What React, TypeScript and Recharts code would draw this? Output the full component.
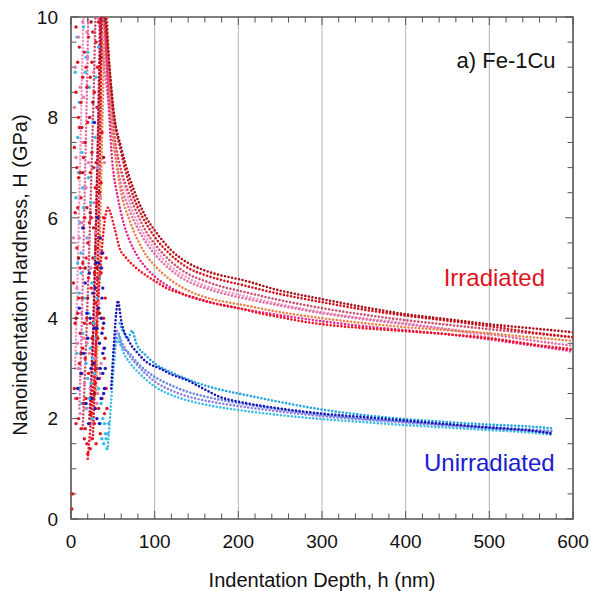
import {
  ComposedChart,
  Line,
  Scatter,
  XAxis,
  YAxis,
  CartesianGrid,
  ReferenceLine,
  ReferenceArea,
  ReferenceDot,
} from "recharts";

type Pt = [number, number];

// ticks
const xMajorTicks = [0, 100, 200, 300, 400, 500, 600];
const xMinorTicks = [
  0, 20, 40, 60, 80, 100, 120, 140, 160, 180, 200, 220, 240, 260, 280, 300, 320,
  340, 360, 380, 400, 420, 440, 460, 480, 500, 520, 540, 560, 580, 600,
];
const yMajorTicks = [0, 2, 4, 6, 8, 10];
const yMinorTicks = [
  0, 0.5, 1, 1.5, 2, 2.5, 3, 3.5, 4, 4.5, 5, 5.5, 6, 6.5, 7, 7.5, 8, 8.5, 9, 9.5, 10,
];

// irradiated indents (depth nm, hardness GPa)
const irrDark: Pt[] = [
  [22, 2.0], [26, 3.6], [30, 6.0], [34, 8.8], [37, 10.6], [41, 10.1], [46, 9.0], [52, 8.0],
  [60, 7.4], [70, 6.8], [80, 6.35], [90, 6.0], [100, 5.75], [120, 5.35], [140, 5.1],
  [160, 4.95], [180, 4.85], [200, 4.78], [250, 4.55], [300, 4.38], [350, 4.22], [400, 4.08],
  [450, 3.98], [500, 3.88], [550, 3.8], [600, 3.72],
];
const irrRed: Pt[] = [
  [26, 1.6], [29, 3.0], [32, 5.2], [35, 7.8], [38, 10.5], [44, 9.4], [50, 8.2], [60, 7.3],
  [70, 6.65], [80, 6.2], [90, 5.88], [100, 5.62], [120, 5.25], [140, 5.0], [160, 4.86],
  [180, 4.76], [200, 4.68], [250, 4.48], [300, 4.32], [350, 4.17], [400, 4.05], [450, 3.95],
  [500, 3.84], [550, 3.72], [600, 3.62],
];
const irrRose: Pt[] = [
  [14, 1.8], [18, 3.5], [22, 5.5], [26, 7.8], [32, 11.0], [42, 9.3], [48, 8.2], [55, 7.3],
  [60, 6.95], [70, 6.45], [80, 6.05], [90, 5.72], [100, 5.48], [120, 5.12], [140, 4.88],
  [160, 4.74], [180, 4.63], [200, 4.55], [250, 4.36], [300, 4.2], [350, 4.07], [400, 3.96],
  [450, 3.87], [500, 3.78], [550, 3.7], [600, 3.62],
];
const irrPink: Pt[] = [
  [10, 2.2], [13, 4.0], [16, 6.2], [19, 8.5], [22, 10.8], [44, 8.4], [50, 7.6], [55, 7.05],
  [60, 6.65], [70, 6.15], [80, 5.78], [90, 5.5], [100, 5.28], [120, 4.95], [140, 4.73],
  [160, 4.6], [180, 4.5], [200, 4.42], [250, 4.25], [300, 4.1], [350, 3.98], [400, 3.88],
  [450, 3.78], [500, 3.68], [550, 3.56], [600, 3.45],
];
const irrOrange: Pt[] = [
  [30, 2.5], [33, 4.5], [36, 6.8], [39, 9.0], [41, 10.5], [48, 8.0], [55, 7.0], [60, 6.5],
  [70, 5.95], [80, 5.55], [90, 5.25], [100, 5.05], [120, 4.75], [140, 4.55], [160, 4.42],
  [180, 4.34], [200, 4.28], [250, 4.12], [300, 4.0], [350, 3.9], [400, 3.82], [450, 3.76],
  [500, 3.7], [550, 3.62], [600, 3.55],
];
const irrMagenta: Pt[] = [
  [24, 2.2], [28, 4.5], [32, 7.5], [36, 10.5], [50, 7.0], [56, 6.4], [62, 5.95], [70, 5.55],
  [80, 5.22], [90, 5.0], [100, 4.83], [120, 4.6], [140, 4.44], [160, 4.34], [180, 4.27],
  [200, 4.2], [250, 4.06], [300, 3.94], [350, 3.84], [400, 3.76], [450, 3.68], [500, 3.58],
  [550, 3.46], [600, 3.35],
];
const irrBright: Pt[] = [
  [20, 1.2], [24, 2.0], [28, 3.0], [32, 4.2], [36, 5.2], [40, 5.9], [44, 6.2], [47, 6.1],
  [52, 5.8], [58, 5.4], [66, 5.2], [78, 5.0], [90, 4.85], [102, 4.72], [114, 4.6],
  [130, 4.5], [150, 4.4], [170, 4.3], [180, 4.26], [200, 4.2], [225, 4.1], [250, 4.02],
  [275, 3.94], [300, 3.88], [350, 3.8], [400, 3.74], [450, 3.68], [500, 3.6], [550, 3.48],
  [600, 3.38],
];
const irrLight: Pt[] = [
  [5, 3.0], [8, 5.0], [11, 7.2], [14, 9.4], [17, 11.0], [45, 8.6], [52, 7.6], [60, 6.9],
  [70, 6.3], [80, 5.9], [90, 5.6], [100, 5.38], [120, 5.02], [140, 4.8], [160, 4.65],
  [180, 4.55], [200, 4.47], [250, 4.28], [300, 4.12], [350, 4.0], [400, 3.9], [450, 3.78],
  [500, 3.62], [550, 3.48], [600, 3.32],
];

// unirradiated indents
const unDark: Pt[] = [
  [48, 2.6], [51, 3.4], [54, 4.1], [56, 4.35], [60, 3.95], [70, 3.52], [80, 3.3], [90, 3.13],
  [106, 3.0], [120, 2.88], [138, 2.77], [160, 2.58], [178, 2.43], [200, 2.34], [250, 2.2],
  [300, 2.1], [350, 2.03], [400, 1.96], [450, 1.89], [500, 1.82], [550, 1.76], [575, 1.7],
];
const unCyan: Pt[] = [
  [58, 3.9], [62, 3.75], [68, 3.6], [73, 3.75], [78, 3.5], [90, 3.25], [100, 3.1],
  [120, 2.92], [140, 2.78], [160, 2.66], [180, 2.57], [200, 2.5], [250, 2.33], [300, 2.18],
  [350, 2.07], [400, 1.99], [450, 1.93], [500, 1.88], [550, 1.84], [578, 1.8],
];
const unSky: Pt[] = [
  [44, 1.45], [46, 1.85], [48, 2.35], [50, 2.8], [52, 3.2], [54, 3.5], [57, 3.65], [62, 3.35],
  [70, 3.12], [80, 2.93], [90, 2.77], [100, 2.64], [120, 2.47], [140, 2.36], [160, 2.28],
  [180, 2.22], [200, 2.17], [250, 2.07], [300, 1.99], [350, 1.93], [400, 1.87], [450, 1.82],
  [500, 1.77], [550, 1.72], [575, 1.68],
];
const unLavender: Pt[] = [
  [52, 3.4], [55, 3.75], [60, 3.55], [70, 3.25], [80, 3.05], [90, 2.88], [100, 2.74],
  [120, 2.56], [140, 2.44], [160, 2.36], [180, 2.3], [200, 2.25], [250, 2.14], [300, 2.05],
  [350, 1.98], [400, 1.92], [450, 1.86], [500, 1.8], [550, 1.75], [572, 1.72],
];
const unBlue: Pt[] = [
  [55, 3.6], [60, 3.45], [70, 3.3], [80, 3.1], [90, 2.95], [100, 2.83], [120, 2.66],
  [140, 2.53], [160, 2.44], [180, 2.37], [200, 2.31], [250, 2.18], [300, 2.08], [350, 2.0],
  [400, 1.94], [450, 1.88], [500, 1.83], [550, 1.78], [575, 1.75],
];

// scattered shallow-depth points
const noiseRed: Pt[] = [
  [1, 0.2], [2, 0.5], [3, 4.7], [5, 6.1], [6, 9.8], [7, 5.4], [8, 9.1], [9, 4.4], [9, 6.8],
  [10, 7.8], [11, 3.7], [12, 6.4], [12, 8.3], [13, 2.9], [14, 5.1], [15, 2.3], [16, 3.9],
  [16, 9.3], [17, 1.8], [18, 5.2], [19, 8.6], [19, 1.5], [20, 1.3], [21, 4.8], [22, 8.0],
  [23, 6.9], [23, 1.4], [24, 2.1], [25, 3.6], [25, 7.3], [26, 9.7], [27, 5.8], [28, 8.5],
  [28, 1.9], [29, 4.3], [30, 7.1], [30, 9.5], [31, 3.0], [32, 9.0], [33, 2.2], [34, 6.5],
  [35, 1.7], [35, 8.4], [36, 4.9], [37, 7.7], [38, 3.8], [39, 6.0], [40, 3.2], [41, 4.4],
  [42, 2.6], [4, 2.6], [4, 7.4], [5, 3.9], [6, 1.9], [6, 8.5], [7, 2.4], [7, 7.0], [8, 4.1],
  [8, 6.2], [9, 2.0], [9, 8.0], [10, 3.1], [10, 9.4], [11, 5.0], [11, 6.9], [12, 1.8],
  [13, 4.4], [13, 7.8], [14, 3.4], [14, 8.8], [15, 5.8], [15, 7.2], [16, 1.6], [16, 6.0],
  [17, 3.2], [17, 7.5], [18, 2.4], [18, 9.0], [19, 4.0], [19, 6.2], [20, 5.5], [20, 7.9],
  [21, 2.9], [21, 9.6], [22, 5.9], [22, 1.9], [23, 3.9], [23, 8.8], [24, 4.6], [24, 6.0],
  [25, 1.6], [25, 9.1], [26, 3.1], [26, 5.2], [27, 2.4], [27, 7.0], [28, 4.9], [29, 2.7],
  [29, 6.6], [30, 1.5], [30, 5.4], [31, 6.3], [31, 8.2], [32, 3.6], [32, 4.8], [33, 5.6],
  [33, 9.9], [34, 2.8], [34, 7.6], [36, 6.7], [37, 2.4], [38, 5.3], [39, 4.0], [40, 2.1],
  [41, 3.6], [42, 5.2], [43, 2.2],
];
const noisePink: Pt[] = [
  [4, 8.2], [6, 7.2], [8, 3.5], [10, 5.6], [12, 4.1], [14, 7.5], [14, 9.9], [16, 2.7],
  [18, 6.6], [20, 9.2], [21, 7.1], [22, 3.3], [24, 5.0], [26, 2.8], [27, 4.6], [28, 6.3],
  [30, 4.0], [32, 2.5], [33, 7.0], [34, 5.3], [36, 3.1], [38, 9.6], [3, 5.6], [5, 9.0],
  [5, 2.4], [7, 4.6], [9, 9.6], [9, 3.0], [11, 8.6], [11, 2.1], [13, 5.9], [15, 3.6],
  [15, 8.4], [17, 6.0], [17, 2.2], [19, 3.5], [19, 9.7], [21, 5.6], [23, 2.6], [23, 8.0],
  [25, 6.0], [25, 1.9], [27, 8.9], [29, 3.2], [29, 5.7], [31, 9.0], [31, 2.3], [33, 4.3],
  [35, 6.4], [35, 2.9], [37, 5.0], [39, 3.4], [40, 7.1],
];
const noiseDark: Pt[] = [
  [6, 4.0], [9, 5.2], [12, 3.3], [14, 6.9], [17, 5.0], [20, 4.4], [23, 6.1], [24, 9.9],
  [26, 8.3], [28, 2.5], [31, 5.0], [34, 4.1], [36, 9.2], [39, 7.2],
];
const noiseCyan: Pt[] = [
  [5, 8.9], [7, 9.6], [8, 7.6], [9, 6.9], [10, 8.3], [11, 5.9], [12, 4.9], [12, 5.3],
  [13, 7.3], [14, 3.7], [15, 6.2], [15, 9.8], [16, 4.4], [17, 8.9], [18, 3.1], [19, 5.6],
  [20, 2.8], [20, 9.3], [21, 4.1], [22, 2.4], [23, 3.4], [24, 2.7], [24, 6.3], [25, 4.7],
  [26, 3.2], [27, 5.8], [28, 2.9], [29, 7.6], [30, 3.6], [31, 4.4], [31, 7.0], [32, 8.2],
  [33, 2.6], [33, 9.4], [35, 1.9], [37, 1.6], [39, 1.5], [41, 1.7], [43, 1.4], [6, 6.4],
  [7, 3.3], [8, 5.1], [9, 2.6], [10, 4.5], [11, 7.8], [13, 2.3], [14, 6.6], [16, 7.5],
  [18, 9.2], [19, 2.2], [21, 6.8], [22, 8.6], [23, 5.0], [25, 2.0], [26, 7.9], [27, 3.9],
  [28, 5.2], [30, 8.8], [32, 3.0], [34, 4.8], [36, 2.3], [38, 2.0], [40, 1.9], [42, 1.6],
  [44, 1.7], [45, 1.9],
];
const noiseBlue: Pt[] = [
  [10, 4.2], [12, 2.9], [14, 5.8], [17, 4.7], [20, 3.6], [22, 4.9], [24, 3.0], [26, 4.5],
  [28, 3.8], [28, 7.9], [30, 5.1], [31, 2.0], [32, 6.0], [33, 4.2], [34, 3.5], [35, 5.6],
  [36, 5.0], [36, 2.4], [37, 4.4], [37, 3.7], [38, 3.3], [38, 2.9], [39, 2.5], [8, 2.6],
  [15, 3.3], [18, 2.3], [19, 4.1], [21, 1.9], [23, 4.0], [25, 2.4], [27, 3.1], [29, 4.6],
  [29, 2.2], [31, 3.8], [32, 2.8], [33, 5.1], [34, 1.9], [35, 3.0], [36, 4.0], [37, 5.3],
  [38, 4.6], [39, 3.9], [40, 3.4], [40, 2.6], [41, 3.0],
];

const lineSeries: { name: string; pts: Pt[]; color: string }[] = [
  { name: "irrLight", pts: irrLight, color: "#f29ac6" },
  { name: "irrPink", pts: irrPink, color: "#e070a4" },
  { name: "irrRose", pts: irrRose, color: "#c8506e" },
  { name: "irrOrange", pts: irrOrange, color: "#e8844a" },
  { name: "irrMagenta", pts: irrMagenta, color: "#e6288c" },
  { name: "irrRed", pts: irrRed, color: "#d5121c" },
  { name: "irrDark", pts: irrDark, color: "#a8101a" },
  { name: "irrBright", pts: irrBright, color: "#f01422" },
  { name: "unLavender", pts: unLavender, color: "#8a80e2" },
  { name: "unBlue", pts: unBlue, color: "#6a86e6" },
  { name: "unSky", pts: unSky, color: "#40bde8" },
  { name: "unCyan", pts: unCyan, color: "#22a4e4" },
  { name: "unDark", pts: unDark, color: "#1414b4" },
];

const noiseSeries: { name: string; pts: Pt[]; color: string }[] = [
  { name: "noiseCyan", pts: noiseCyan, color: "#3cb8e8" },
  { name: "noisePink", pts: noisePink, color: "#e878b0" },
  { name: "noiseRed", pts: noiseRed, color: "#e01424" },
  { name: "noiseDark", pts: noiseDark, color: "#9c1420" },
  { name: "noiseBlue", pts: noiseBlue, color: "#1a1ab8" },
];

const toRows = (pts: Pt[]) => pts.map(([h, H]) => ({ h, H }));

const FONT = "'Liberation Sans', Arial, Helvetica, sans-serif";
const FRAME = "#555";

const yTitle = () => (
  <text
    x={20}
    y={275}
    transform="rotate(-90, 20, 275)"
    textAnchor="middle"
    dominantBaseline="central"
    fontSize={20}
    fontFamily={FONT}
    fill="#111"
  >
    Nanoindentation Hardness, H (GPa)
  </text>
);

export default function App() {
  return (
    <div style={{ position: "absolute", left: 0, top: 0, background: "#fff" }}>
      <ComposedChart
        width={591}
        height={591}
        margin={{ top: 17, right: 18, left: 0, bottom: 0 }}
      >
        <CartesianGrid horizontal={false} stroke="#b4b4b4" strokeWidth={1} />
        <XAxis
          dataKey="h"
          type="number"
          domain={[0, 600]}
          ticks={xMajorTicks}
          allowDataOverflow
          height={72}
          axisLine={false}
          tickLine={false}
          tickSize={0}
          tickMargin={16}
          tick={{ fontSize: 19, fill: "#111", fontFamily: FONT }}
          label={{
            value: "Indentation Depth, h (nm)",
            position: "insideBottom",
            offset: 4,
            fontSize: 20,
            fill: "#111",
            fontFamily: FONT,
          }}
        />
        <YAxis
          dataKey="H"
          type="number"
          domain={[0, 10]}
          ticks={yMajorTicks}
          allowDataOverflow
          width={71}
          axisLine={false}
          tickLine={false}
          tickSize={0}
          tickMargin={13}
          tick={{ fontSize: 19, fill: "#111", fontFamily: FONT }}
          label={{ content: yTitle }}
        />

        {noiseSeries.map((s) => (
          <Scatter
            key={s.name}
            data={toRows(s.pts)}
            dataKey="H"
            isAnimationActive={false}
            shape={(p: any) => <circle cx={p.cx} cy={p.cy} r={1.7} fill={s.color} />}
          />
        ))}

        {lineSeries.map((s) => (
          <Line
            key={s.name}
            data={toRows(s.pts)}
            dataKey="H"
            type="monotone"
            stroke={s.color}
            strokeWidth={2.6}
            strokeDasharray="0 3.6"
            strokeLinecap="round"
            dot={false}
            activeDot={false}
            isAnimationActive={false}
          />
        ))}

        {xMinorTicks.map((t) => (
          <ReferenceLine
            key={"xb" + t}
            segment={[{ x: t, y: 0 }, { x: t, y: t % 100 === 0 ? 0.16 : 0.11 }]}
            stroke={FRAME}
            strokeWidth={1}
          />
        ))}
        {xMinorTicks.map((t) => (
          <ReferenceLine
            key={"xt" + t}
            segment={[{ x: t, y: 10 }, { x: t, y: t % 100 === 0 ? 9.84 : 9.89 }]}
            stroke={FRAME}
            strokeWidth={1}
          />
        ))}
        {yMinorTicks.map((t) => (
          <ReferenceLine
            key={"yl" + t}
            segment={[{ x: 0, y: t }, { x: t % 2 === 0 ? 9.5 : 6.5, y: t }]}
            stroke={FRAME}
            strokeWidth={1}
          />
        ))}
        {yMinorTicks.map((t) => (
          <ReferenceLine
            key={"yr" + t}
            segment={[{ x: 600, y: t }, { x: t % 2 === 0 ? 590.5 : 593.5, y: t }]}
            stroke={FRAME}
            strokeWidth={1}
          />
        ))}

        <ReferenceArea
          x1={0}
          x2={600}
          y1={0}
          y2={10}
          fill="none"
          fillOpacity={0}
          stroke={FRAME}
          strokeWidth={1.5}
        />

        <ReferenceDot
          x={520}
          y={9.14}
          r={0}
          fill="none"
          stroke="none"
          label={{ value: "a) Fe-1Cu", position: "center", fontSize: 22, fill: "#111", fontFamily: FONT }}
        />
        <ReferenceDot
          x={506}
          y={4.82}
          r={0}
          fill="none"
          stroke="none"
          label={{ value: "Irradiated", position: "center", fontSize: 24, fill: "#e0141e", fontFamily: FONT }}
        />
        <ReferenceDot
          x={500}
          y={1.12}
          r={0}
          fill="none"
          stroke="none"
          label={{ value: "Unirradiated", position: "center", fontSize: 24, fill: "#1a1ad0", fontFamily: FONT }}
        />
      </ComposedChart>
    </div>
  );
}
